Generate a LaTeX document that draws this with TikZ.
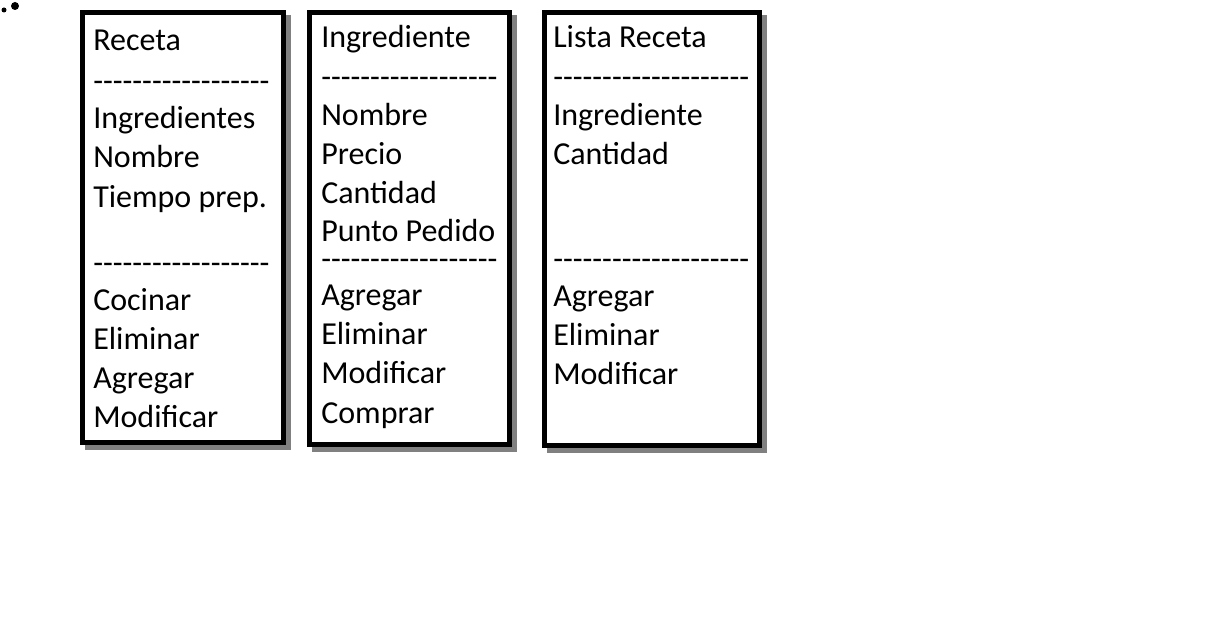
\documentclass[tikz,border=0pt]{standalone}
\usepackage{fontspec}
\setmainfont{Carlito}

\newcommand{\guiones}[1]{\foreach \k in {1,...,#1}{-}}

\begin{document}
\begin{tikzpicture}[x=0.75pt,y=-0.75pt,
    sombra/.style={fill=gray},
    caja/.style={draw=black, line width=3.75pt, fill=white},
    linea/.style={anchor=base west, inner sep=0pt, font=\fontsize{24}{29}\selectfont}]
    \useasboundingbox (0,0) rectangle (1216,627);

    % Mancha
    \fill (4,10) circle (2.5);
    \fill (15,6) circle (4);

    % Cajas con sombra
    \foreach \xa/\xb/\yb in {80/286/445, 307/512/447, 542/762/448} {
        \fill[sombra] (\xa+5,15) rectangle (\xb+5,\yb+5);
        \draw[caja] (\xa+2.5,12.5) rectangle (\xb-2.5,\yb-2.5);
    }

    % Receta
    \foreach \texto/\y [count=\i] in {Receta/51, Ingredientes/129, Nombre/168, Tiempo prep./208,
        Cocinar/310, Eliminar/349, Agregar/388, Modificar/427}
        \node[linea] (receta-\i) at (93,\y) {\texto};
    \node[linea] (receta-g1) at (93,92) {\guiones{18}};
    \node[linea] (receta-g2) at (93,273) {\guiones{18}};

    % Ingrediente
    \foreach \texto/\y [count=\i] in {Ingrediente/48, Nombre/126, Precio/165, Cantidad/204, Punto Pedido/242,
        Agregar/305, Eliminar/344, Modificar/383, Comprar/423}
        \node[linea] (ingrediente-\i) at (321,\y) {\texto};
    \node[linea] (ingrediente-g1) at (321,88) {\guiones{18}};
    \node[linea] (ingrediente-g2) at (321,269) {\guiones{18}};

    % Lista Receta
    \foreach \texto/\y [count=\i] in {Lista Receta/48, Ingrediente/126, Cantidad/165,
        Agregar/306, Eliminar/345, Modificar/384}
        \node[linea] (lista-\i) at (553,\y) {\texto};
    \node[linea] (lista-g1) at (553,88) {\guiones{20}};
    \node[linea] (lista-g2) at (553,269) {\guiones{20}};
\end{tikzpicture}
\end{document}
